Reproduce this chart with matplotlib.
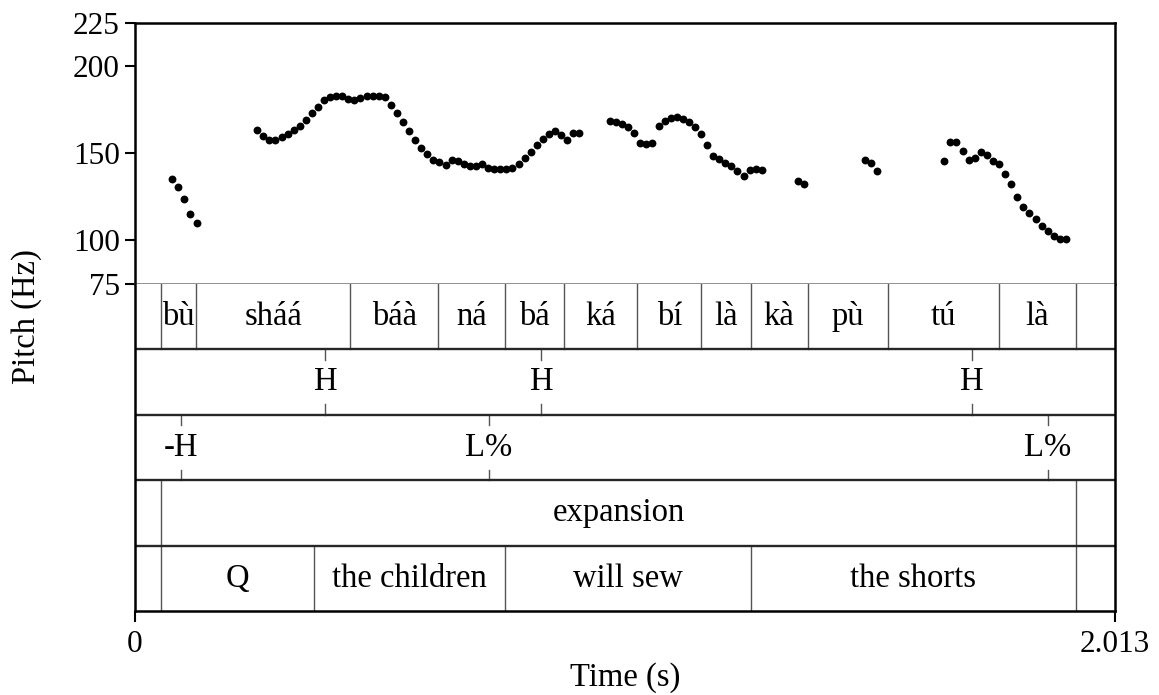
import matplotlib
matplotlib.use("Agg")
import matplotlib.pyplot as plt
import numpy as np

plt.rcParams['font.family'] = ['Liberation Serif', 'DejaVu Serif']

# ---- data ----
t_max = 2.013
pitch_t = [0.0760, 0.0890, 0.1013, 0.1137, 0.1267,
           0.2506, 0.2636, 0.2759, 0.2883, 0.3013, 0.3136, 0.3259, 0.3382, 0.3506, 0.3636,
           0.3759, 0.3882, 0.4012, 0.4136, 0.4259, 0.4382, 0.4505, 0.4629, 0.4759, 0.4882,
           0.5005, 0.5128, 0.5265, 0.5388, 0.5512, 0.5635, 0.5758, 0.5881, 0.6005, 0.6128,
           0.6251, 0.6381, 0.6504, 0.6628, 0.6751, 0.6874, 0.7004, 0.7128, 0.7251, 0.7381,
           0.7504, 0.7627, 0.7751, 0.7881, 0.8004, 0.8127, 0.8250, 0.8381, 0.8504, 0.8627,
           0.8750, 0.8880, 0.9004, 0.9127,
           0.9750, 0.9873, 0.9996, 1.0127, 1.0250, 1.0380, 1.0503, 1.0626, 1.0756, 1.0880,
           1.1003, 1.1126, 1.1249, 1.1379, 1.1503, 1.1626, 1.1749, 1.1879, 1.2003, 1.2126,
           1.2249, 1.2372, 1.2502, 1.2626, 1.2749, 1.2872,
           1.3625, 1.3749,
           1.5002, 1.5125, 1.5248,
           1.6624, 1.6748, 1.6871, 1.7001, 1.7124, 1.7247, 1.7371, 1.7494, 1.7624, 1.7747,
           1.7870, 1.8001, 1.8124, 1.8247, 1.8370, 1.8500, 1.8624, 1.8747, 1.8870, 1.8993,
           1.9123]
pitch_hz = [135.5, 130.5, 123.6, 115.0, 109.8,
            163.4, 160.2, 157.9, 157.5, 159.2, 161.1, 163.2, 165.5, 169.0, 173.2,
            176.8, 180.4, 182.5, 182.9, 182.7, 181.0, 180.8, 182.0, 182.7, 182.9,
            183.1, 182.2, 178.0, 173.2, 168.0, 163.0, 157.7, 152.9, 149.6, 146.2,
            144.9, 143.5, 146.2, 145.4, 143.7, 142.6, 142.9, 143.7, 141.4, 140.8,
            140.8, 140.8, 141.6, 144.1, 147.2, 150.8, 154.6, 158.1, 161.3, 162.8,
            160.5, 157.9, 161.9, 161.9,
            168.8, 168.0, 166.9, 164.9, 161.9, 156.1, 155.4, 156.1, 165.5, 168.4,
            170.1, 170.9, 169.9, 168.2, 165.3, 161.1, 154.8, 148.7, 146.6, 144.7,
            142.6, 139.7, 137.2, 140.5, 141.0, 140.3,
            134.3, 132.6,
            146.0, 144.3, 140.1,
            145.4, 156.7, 156.5, 151.5, 146.4, 147.3, 150.8, 149.1, 145.8, 143.7,
            138.0, 132.6, 124.8, 119.2, 115.8, 112.3, 108.1, 105.4, 102.8, 100.9,
            101.0]

y_ticks = [75, 100, 150, 200, 225]
x_ticks = [0, 2.013]
x_tick_labels = ["0", "2.013"]

# tier 1: syllables (interval tier)
syl_bounds = [0.0541, 0.1260, 0.4416, 0.6231, 0.7600, 0.8812, 1.0318, 1.1633,
              1.2646, 1.3817, 1.5474, 1.7754, 1.9322]
syl_labels = ["bù", "sháá", "báà", "ná", "bá", "ká", "bí", "là", "kà", "pù", "tú", "là"]
# tier 2: tones (point tier)
tone_t = [0.3910, 0.8347, 1.7186]
tone_labels = ["H", "H", "H"]
# tier 3: boundary tones (point tier)
bnd_t = [0.0952, 0.7272, 1.8754]
bnd_labels = ["-H", "L%", "L%"]
# tier 4: focus (interval tier)
foc_bounds = [0.0541, 1.9322]
foc_labels = ["expansion"]
# tier 5: glosses (interval tier)
gl_bounds = [0.0541, 0.3684, 0.7600, 1.2646, 1.9322]
gl_labels = ["Q", "the children", "will sew", "the shorts"]

# ---- figure ----
W, H = 1159, 695
fig = plt.figure(figsize=(W / 100, H / 100), dpi=100)
left, right = 135 / W, 1115 / W
y_top, y_mid, y_bot = 1 - 22.7 / H, 1 - 284 / H, 1 - 611 / H

FS_TICK = 22.5
FS = 23.5
spine_c = 'black'
sep_c = '#262626'
bnd_c = '#555555'

axp = fig.add_axes([left, y_mid, right - left, y_top - y_mid])
axt = fig.add_axes([left, y_bot, right - left, y_mid - y_bot], sharex=axp)

axp.scatter(pitch_t, pitch_hz, s=32, color='black', linewidths=0, zorder=3)
axp.set_xlim(0, t_max)
axp.set_ylim(75, 225)
axp.set_yticks(y_ticks)
axp.set_yticklabels([str(v) for v in y_ticks])
axp.tick_params(axis='y', direction='out', length=7, width=1.5, pad=4, labelsize=FS_TICK)
axp.tick_params(axis='x', bottom=False, labelbottom=False)
for s in ['left', 'top', 'right']:
    axp.spines[s].set_linewidth(1.8)
    axp.spines[s].set_color(spine_c)
axp.spines['bottom'].set_linewidth(1.8)
axp.spines['bottom'].set_color('#707070')

# tiers
n_tiers = 5
axt.set_ylim(0, n_tiers)
axt.set_yticks([])
axt.set_xticks(x_ticks)
axt.set_xticklabels(x_tick_labels)
axt.tick_params(axis='x', direction='out', length=8, width=1.5, pad=6, labelsize=FS_TICK)
for s in ['left', 'bottom', 'right']:
    axt.spines[s].set_linewidth(1.8)
    axt.spines[s].set_color(spine_c)
axt.spines['top'].set_visible(False)

for k in range(1, n_tiers):
    axt.axhline(k, color=sep_c, lw=1.7, zorder=2)


def interval_tier(idx, bounds, labels):
    y0 = n_tiers - idx - 1
    for b in bounds:
        axt.plot([b, b], [y0, y0 + 1], color=bnd_c, lw=1.0, zorder=1)
    for a, b, lab in zip(bounds[:-1], bounds[1:], labels):
        axt.text((a + b) / 2, y0 + 0.5, lab, ha='center', va='center',
                 fontsize=FS, color='black')


def point_tier(idx, times, labels):
    y0 = n_tiers - idx - 1
    tick = 0.16
    for t, lab in zip(times, labels):
        axt.plot([t, t], [y0 + 1 - tick, y0 + 1], color=bnd_c, lw=1.0, zorder=1)
        axt.plot([t, t], [y0, y0 + tick], color=bnd_c, lw=1.0, zorder=1)
        axt.text(t, y0 + 0.5, lab, ha='center', va='center', fontsize=FS, color='black')


interval_tier(0, syl_bounds, syl_labels)
point_tier(1, tone_t, tone_labels)
point_tier(2, bnd_t, bnd_labels)
interval_tier(3, foc_bounds, foc_labels)
interval_tier(4, gl_bounds, gl_labels)

fig.text((left + right) / 2, 1 - 678 / H, "Time (s)", ha='center', va='center', fontsize=FS)
fig.text(27 / W, (y_top + y_bot) / 2, "Pitch (Hz)", ha='center', va='center',
         rotation=90, fontsize=FS)

fig.savefig("out.png", dpi=100)
